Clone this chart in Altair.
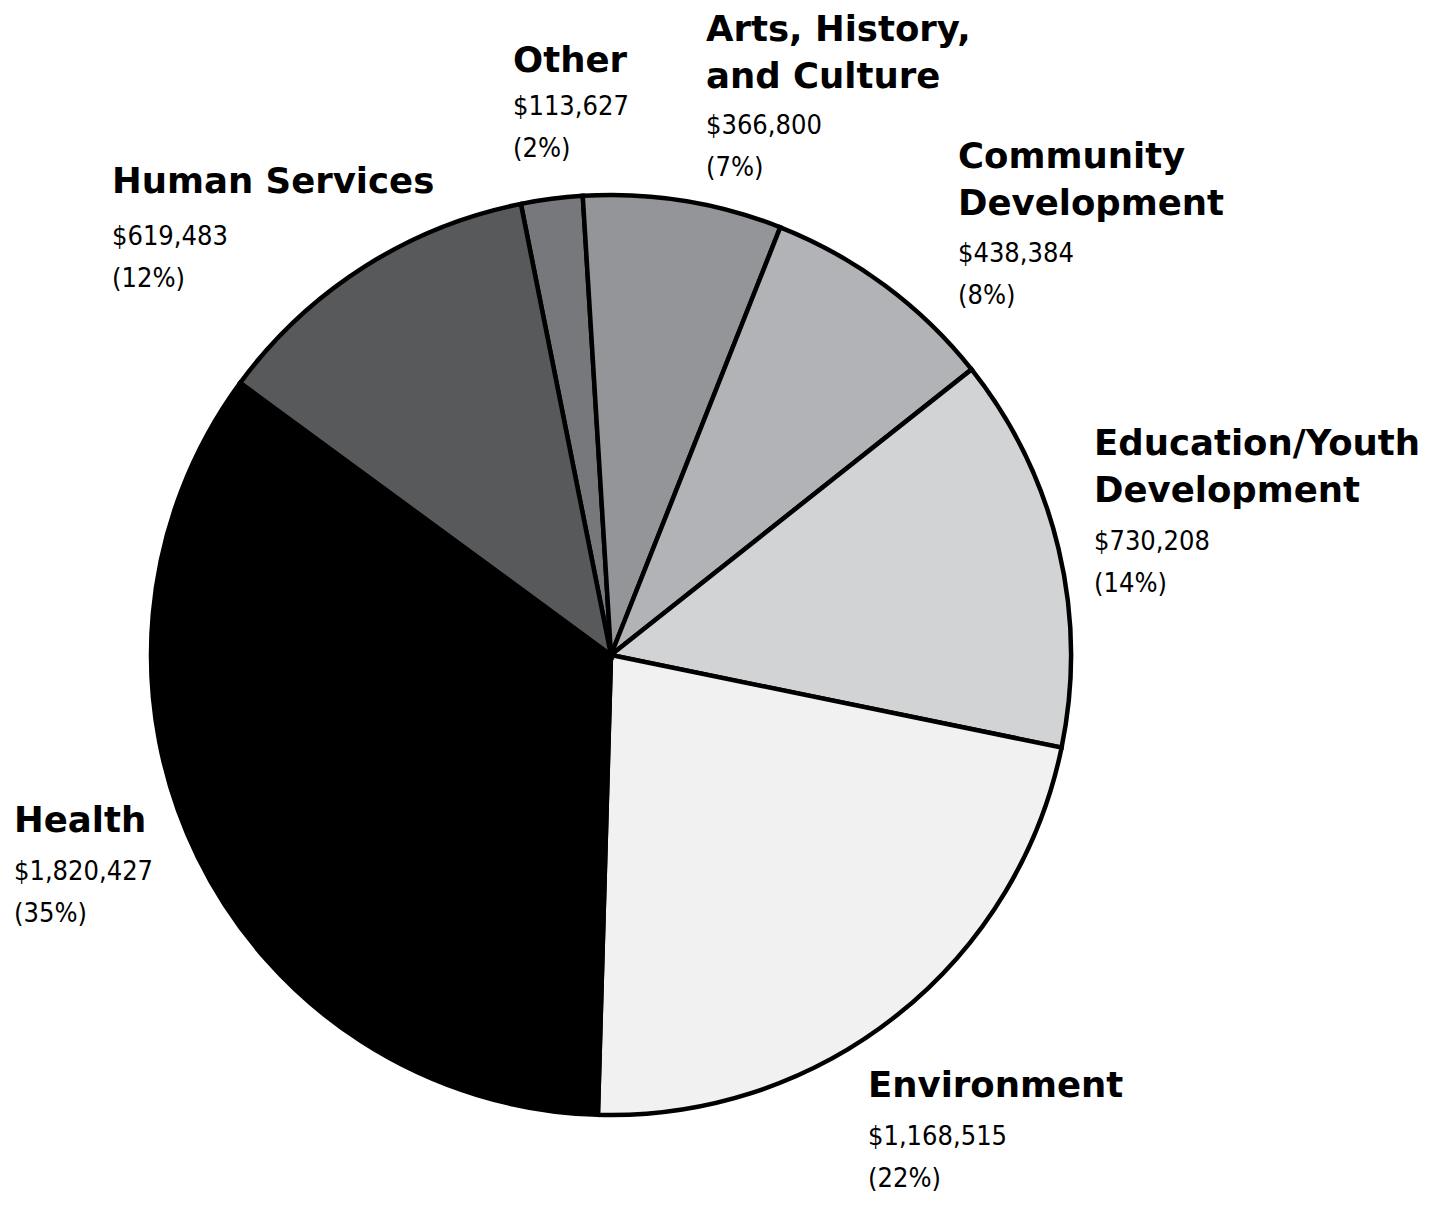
import math
import altair as alt
import pandas as pd

# ---- data ----
categories = ["Other", "Arts, History, and Culture", "Community Development",
              "Education/Youth Development", "Environment", "Health", "Human Services"]
title_lines = ["Other", "Arts, History,\nand Culture", "Community\nDevelopment",
               "Education/Youth\nDevelopment", "Environment", "Health", "Human Services"]
amounts = [113627, 366800, 438384, 730208, 1168515, 1820427, 619483]
colors = ["#77787b", "#939598", "#b1b3b6", "#d1d3d4", "#f1f1f2", "#000000", "#58595b"]

# ---- layout (label anchors, chart pixel coords) ----
label_x = [505, 698, 950, 1086, 860, 6, 104]
title_y = [64, 33, 160, 447, 1089, 824, 185]
value_y = [107, 126, 254, 542, 1137, 872, 237]

total = sum(amounts)
df = pd.DataFrame({
    "category": categories,
    "amount": amounts,
    "ord": list(range(len(categories))),
})
lab = pd.DataFrame({
    "category": categories,
    "title": title_lines,
    "values": [f"${a:,}\n({round(100 * a / total)}%)" for a in amounts],
    "lx": label_x,
    "ty": title_y,
    "vy": value_y,
})

start = -11.3 * math.pi / 180
cx, cy, r = 603, 647, 460

pie = alt.Chart(df).mark_arc(
    outerRadius=r, stroke="#000000", strokeWidth=4.5, strokeJoin="miter"
).encode(
    theta=alt.Theta("amount:Q", stack=True,
                    scale=alt.Scale(range=[start, start + 2 * math.pi])),
    color=alt.Color("category:N", scale=alt.Scale(domain=categories, range=colors),
                    legend=None),
    order=alt.Order("ord:Q"),
    x=alt.value(cx),
    y=alt.value(cy),
)

titles = alt.Chart(lab).mark_text(
    align="left", baseline="alphabetic", font="DejaVu Sans", fontWeight="bold",
    fontSize=35.5, lineBreak="\n", lineHeight=47, color="#000000",
).encode(
    x=alt.X("lx:Q", scale=None),
    y=alt.Y("ty:Q", scale=None),
    text="title:N",
)

vals = alt.Chart(lab).mark_text(
    align="left", baseline="alphabetic",
    font="DejaVu Sans Condensed, sans-serif",
    fontSize=27, lineBreak="\n", lineHeight=42, color="#000000",
).encode(
    x=alt.X("lx:Q", scale=None),
    y=alt.Y("vy:Q", scale=None),
    text="values:N",
)

chart = alt.layer(pie, titles, vals).properties(
    width=1421, height=1189, autosize="none", padding=0
).configure_view(stroke=None)

chart.save("out.html", embed_options={"renderer": "svg", "actions": False})
